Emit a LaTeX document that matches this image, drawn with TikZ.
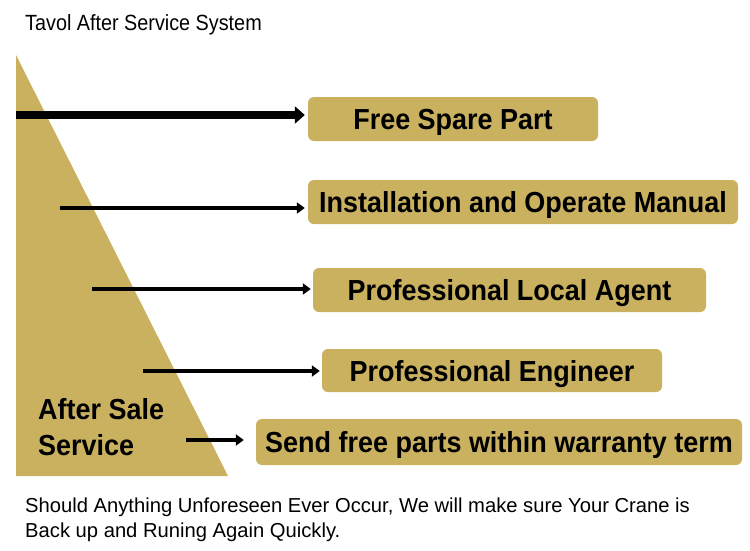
\documentclass[tikz,border=0pt]{standalone}
\usepackage{fontspec}
\setmainfont{Liberation Sans}
\newfontfamily\condfont[FakeStretch=0.9]{Liberation Sans}
\newfontfamily\condbold[FakeStretch=0.93]{Liberation Sans Bold}
\usetikzlibrary{arrows.meta}
\definecolor{gold}{RGB}{201,177,95}
\tikzset{
  itembox/.style={fill=gold, rounded corners=6pt, inner sep=0pt, minimum height=44pt,
    text height=21pt, text depth=0pt,
    font=\condbold\fontsize{29}{32}\selectfont, text=black},
  bigarrow/.style={line width=8pt, -{Triangle[length=10pt,width=17pt]}},
  smallarrow/.style={line width=4.5pt, -{Triangle[length=8pt,width=11pt]}},
  foottext/.style={anchor=base west, inner sep=0pt, font=\rmfamily\fontsize{20.2}{25}\selectfont},
}
\begin{document}
\begin{tikzpicture}[x=1pt,y=-1pt]
\useasboundingbox (0,0) rectangle (750,550);
\fill[white] (0,0) rectangle (750,550);
% triangle
\fill[gold] (16,55) -- (228,476) -- (16,476) -- cycle;
% title
\node[anchor=west, inner sep=0pt, font=\condfont\fontsize{22}{24}\selectfont] (title) at (25,25) {Tavol After Service System};
% boxes
\node[itembox, minimum width=290pt] (b1) at (453,119) {Free Spare Part};
\node[itembox, minimum width=430pt] (b2) at (523,202) {Installation and Operate Manual};
\node[itembox, minimum width=393pt] (b3) at (509.5,290) {Professional Local Agent};
\node[itembox, minimum width=340pt, minimum height=43pt] (b4) at (492,370.5) {Professional Engineer};
\node[itembox, minimum width=486pt, minimum height=46pt] (b5) at (499,442) {Send free parts within warranty term};
% arrow starts
\coordinate (s1) at (16,115);
\coordinate (s2) at (60,208);
\coordinate (s3) at (92,289);
\coordinate (s4) at (143,371);
\coordinate (s5) at (186,440);
\draw[bigarrow, shorten >=3pt] (s1) -- (s1 -| b1.west);
\draw[smallarrow, shorten >=3pt] (s2) -- (s2 -| b2.west);
\draw[smallarrow, shorten >=2pt] (s3) -- (s3 -| b3.west);
\draw[smallarrow, shorten >=2pt] (s4) -- (s4 -| b4.west);
\draw[smallarrow, shorten >=12pt] (s5) -- (s5 -| b5.west);
% after sale label
\node[anchor=west, inner sep=0pt, align=left, font=\condbold\fontsize{29}{36}\selectfont] (asl) at (38,427) {After Sale\\Service};
% bottom text
\node[foottext] (foot1) at (25,512) {Should Anything Unforeseen Ever Occur, We will make sure Your Crane is};
\node[foottext] (foot2) at (25,537) {Back up and Runing Again Quickly.};
\end{tikzpicture}
\end{document}
